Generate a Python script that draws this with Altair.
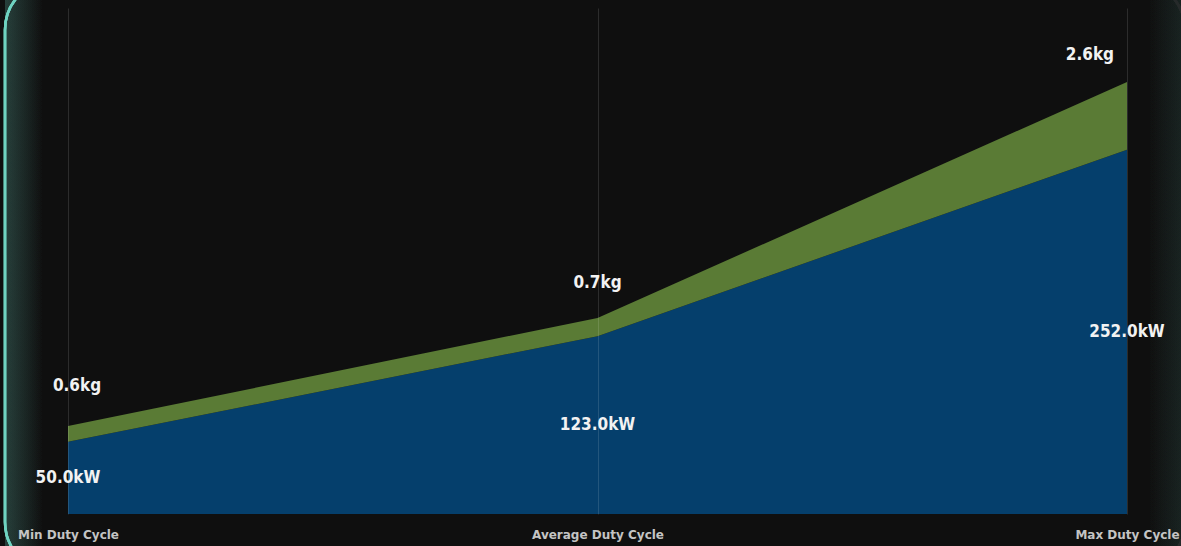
import altair as alt
import pandas as pd

# Duty-cycle operating points: electrical power and hydrogen use
stages = ["Min Duty Cycle", "Average Duty Cycle", "Max Duty Cycle"]
power_kw = [50.0, 123.0, 252.0]
hydrogen_kg = [0.6, 0.7, 2.6]

# hydrogen band is stacked on the power band, scaled into kW-axis units
KG_SCALE = 18

FONT = "DejaVu Sans Condensed"
AXIS_FONT = "DejaVu Sans"
BG = "#0f0f0f"
BLUE = "#053f6c"
GREEN = "#5a7b35"
TEAL = "#6fd3c1"

df = pd.DataFrame({"stage": stages, "kW": power_kw, "kg": hydrogen_kg})

x_enc = alt.X(
    "stage:N",
    sort=stages,
    scale=alt.Scale(type="point", padding=0),
    axis=alt.Axis(
        title=None,
        labelAngle=0,
        domain=False,
        ticks=False,
        labelPadding=15,
        grid=True,
        gridColor="#ffffff",
        gridOpacity=0.12,
        gridWidth=1,
        zindex=1,
        labelFont=AXIS_FONT,
        labelFontSize=12,
        labelFontWeight="bold",
        labelColor="#c4c4c4",
        labelOverlap=False,
        labelFlush=False,
    ),
)
y_scale = alt.Scale(domain=[0, 350])

base = alt.Chart(df).transform_calculate(
    top=f"datum.kW + datum.kg * {KG_SCALE}",
    half="datum.kW / 2",
    kw_label="format(datum.kW, '.1f') + 'kW'",
    kg_label="format(datum.kg, '.1f') + 'kg'",
)

# soft glow along the card edges
glow_left = alt.Chart(df).mark_rect(
    fill=alt.LinearGradient(
        gradient="linear",
        x1=0, x2=1, y1=0, y2=0,
        stops=[
            alt.GradientStop(color="rgba(111,211,193,0.09)", offset=0),
            alt.GradientStop(color="rgba(111,211,193,0)", offset=1),
        ],
    ),
    cornerRadius=50,
).encode(x=alt.value(-63), x2=alt.value(-25), y=alt.value(-28), y2=alt.value(564))

glow_right = alt.Chart(df).mark_rect(
    fill=alt.LinearGradient(
        gradient="linear",
        x1=0, x2=1, y1=0, y2=0,
        stops=[
            alt.GradientStop(color="rgba(111,211,193,0)", offset=0),
            alt.GradientStop(color="rgba(111,211,193,0.04)", offset=1),
        ],
    ),
).encode(x=alt.value(1080), x2=alt.value(1117), y=alt.value(-28), y2=alt.value(564))

power_area = base.mark_area(color=BLUE, opacity=1).encode(
    x=x_enc,
    y=alt.Y("kW:Q", scale=y_scale, axis=None),
)

hydrogen_area = base.mark_area(color=GREEN, opacity=1).encode(
    x=x_enc,
    y=alt.Y("kW:Q", scale=y_scale, axis=None),
    y2="top:Q",
)

kw_text = base.mark_text(
    font=FONT, fontSize=17, fontWeight="bold", color="#f2f2f2", baseline="middle"
).encode(
    x=x_enc,
    y=alt.Y("half:Q", scale=y_scale, axis=None),
    text="kw_label:N",
)


def kg_text(stage, dx, dy, align):
    return base.transform_filter(alt.datum.stage == stage).mark_text(
        font=FONT, fontSize=17, fontWeight="bold", color="#f2f2f2",
        baseline="middle", align=align, dx=dx, dy=dy,
    ).encode(
        x=x_enc,
        y=alt.Y("top:Q", scale=y_scale, axis=None),
        text="kg_label:N",
    )


kg_labels = [
    kg_text(stages[0], 9, -40, "center"),
    kg_text(stages[1], 0, -35, "center"),
    kg_text(stages[2], -13, -27, "right"),
]

# card outline: bright on the left, fading to a dim edge on the right
border = alt.Chart(df).mark_rect(
    fillOpacity=0,
    stroke=alt.LinearGradient(
        gradient="linear",
        x1=0, x2=1, y1=0, y2=0,
        stops=[
            alt.GradientStop(color=TEAL, offset=0),
            alt.GradientStop(color=TEAL, offset=0.03),
            alt.GradientStop(color="#262a2a", offset=0.12),
            alt.GradientStop(color="#262a2a", offset=1),
        ],
    ),
    strokeWidth=2.5,
    cornerRadius=50,
).encode(x=alt.value(-63), x2=alt.value(1117), y=alt.value(-28), y2=alt.value(564))

chart = alt.layer(
    glow_left, glow_right, power_area, hydrogen_area, kw_text, *kg_labels, border
).properties(
    width=1059,
    height=506,
    autosize=alt.AutoSizeParams(type="none"),
    padding={"left": 68, "top": 8, "right": 54, "bottom": 32},
    background=BG,
).configure_view(stroke=None)

chart.save("out.html", embed_options={"renderer": "svg", "actions": False})
